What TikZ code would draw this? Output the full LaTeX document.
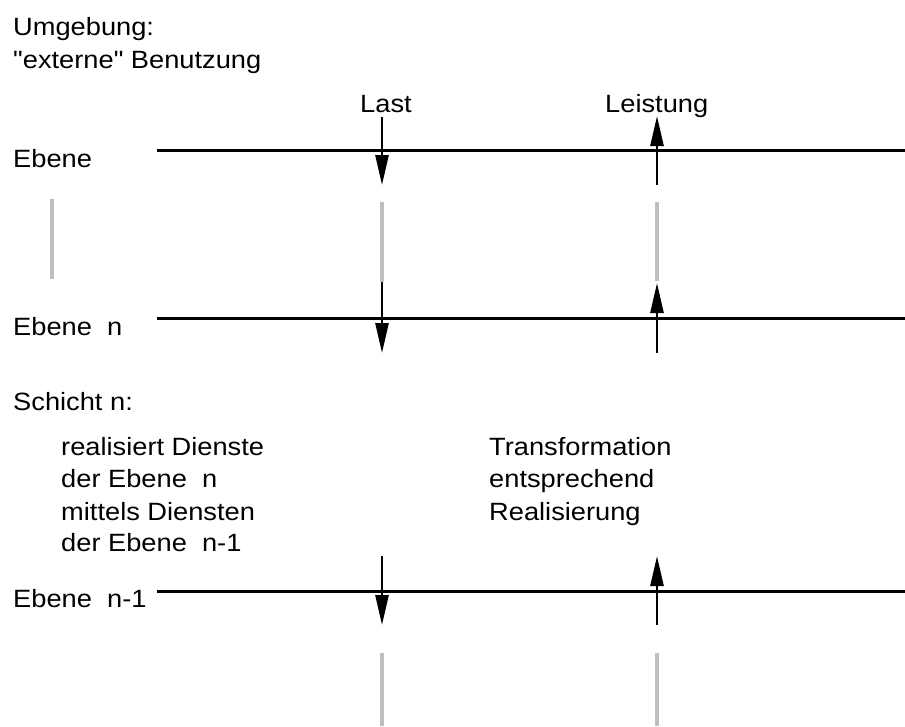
\documentclass[tikz,border=0pt]{standalone}
\usepackage{fontspec}
\setmainfont{Liberation Sans}[FakeStretch=1.09,Ligatures=TeXOff]
\usetikzlibrary{arrows.meta}
\begin{document}
\begin{tikzpicture}[x=1pt,y=-1pt,
  lbl/.style={anchor=base west,inner sep=0pt,font=\fontsize{25}{32}\selectfont},
  level/.style={line width=3pt,black},
  flow/.style={line width=2.6pt,black,-{Triangle[length=30pt,width=13pt]}},
  gap/.style={line width=3.6pt,gray!50}]
\useasboundingbox (0,0) rectangle (905,726);

% headings and layer labels
\node[lbl] (umg) at (13,35) {Umgebung:};
\node[lbl] (ext) at (13,68) {"externe" Benutzung};
\node[lbl] (last) at (360,112) {Last};
\node[lbl] (leist) at (605,112) {Leistung};
\node[lbl] (eb0) at (13,167) {Ebene};
\node[lbl] (ebn) at (13,335) {Ebene~\ n};
\node[lbl] (schicht) at (13,410) {Schicht n:};

% description of the layer
\node[lbl] (desc1) at (61,455) {realisiert Dienste};
\node[lbl] (desc2) at (61,487) {der Ebene~\ n};
\node[lbl] (desc3) at (61,520) {mittels Diensten};
\node[lbl] (desc4) at (61,551) {der Ebene~\ n-1};
\node[lbl] (trans1) at (489,455) {Transformation};
\node[lbl] (trans2) at (489,487) {entsprechend};
\node[lbl] (trans3) at (489,520) {Realisierung};
\node[lbl] (ebn1) at (13,607) {Ebene~\ n-1};

% level lines
\coordinate (l0a) at (157,150.5); \coordinate (l0b) at (905,150.5);
\coordinate (l1a) at (157,318);   \coordinate (l1b) at (905,318);
\coordinate (l2a) at (157,591);   \coordinate (l2b) at (905,591);
\draw[level] (l0a) -- (l0b);
\draw[level] (l1a) -- (l1b);
\draw[level] (l2a) -- (l2b);

% load (down) and service (up) arrows
\coordinate (d0s) at (382,117); \coordinate (d0e) at (382,185);
\coordinate (u0s) at (657,185); \coordinate (u0e) at (657,116);
\coordinate (d1s) at (382,282); \coordinate (d1e) at (382,353);
\coordinate (u1s) at (657,353); \coordinate (u1e) at (657,283);
\coordinate (d2s) at (382,556); \coordinate (d2e) at (382,625);
\coordinate (u2s) at (657,625); \coordinate (u2e) at (657,556);
\draw[flow] (d0s) -- (d0e);
\draw[flow] (u0s) -- (u0e);
\draw[flow] (d1s) -- (d1e);
\draw[flow] (u1s) -- (u1e);
\draw[flow] (d2s) -- (d2e);
\draw[flow] (u2s) -- (u2e);

% grey continuation marks
\coordinate (g0a) at (52,199);  \coordinate (g0b) at (52,279);
\coordinate (g1a) at (382,202); \coordinate (g1b) at (382,282);
\coordinate (g2a) at (657,202); \coordinate (g2b) at (657,281);
\coordinate (g3a) at (382,653); \coordinate (g3b) at (382,726);
\coordinate (g4a) at (657,653); \coordinate (g4b) at (657,726);
\draw[gap] (g0a) -- (g0b);
\draw[gap] (g1a) -- (g1b);
\draw[gap] (g2a) -- (g2b);
\draw[gap] (g3a) -- (g3b);
\draw[gap] (g4a) -- (g4b);
\end{tikzpicture}
\end{document}
